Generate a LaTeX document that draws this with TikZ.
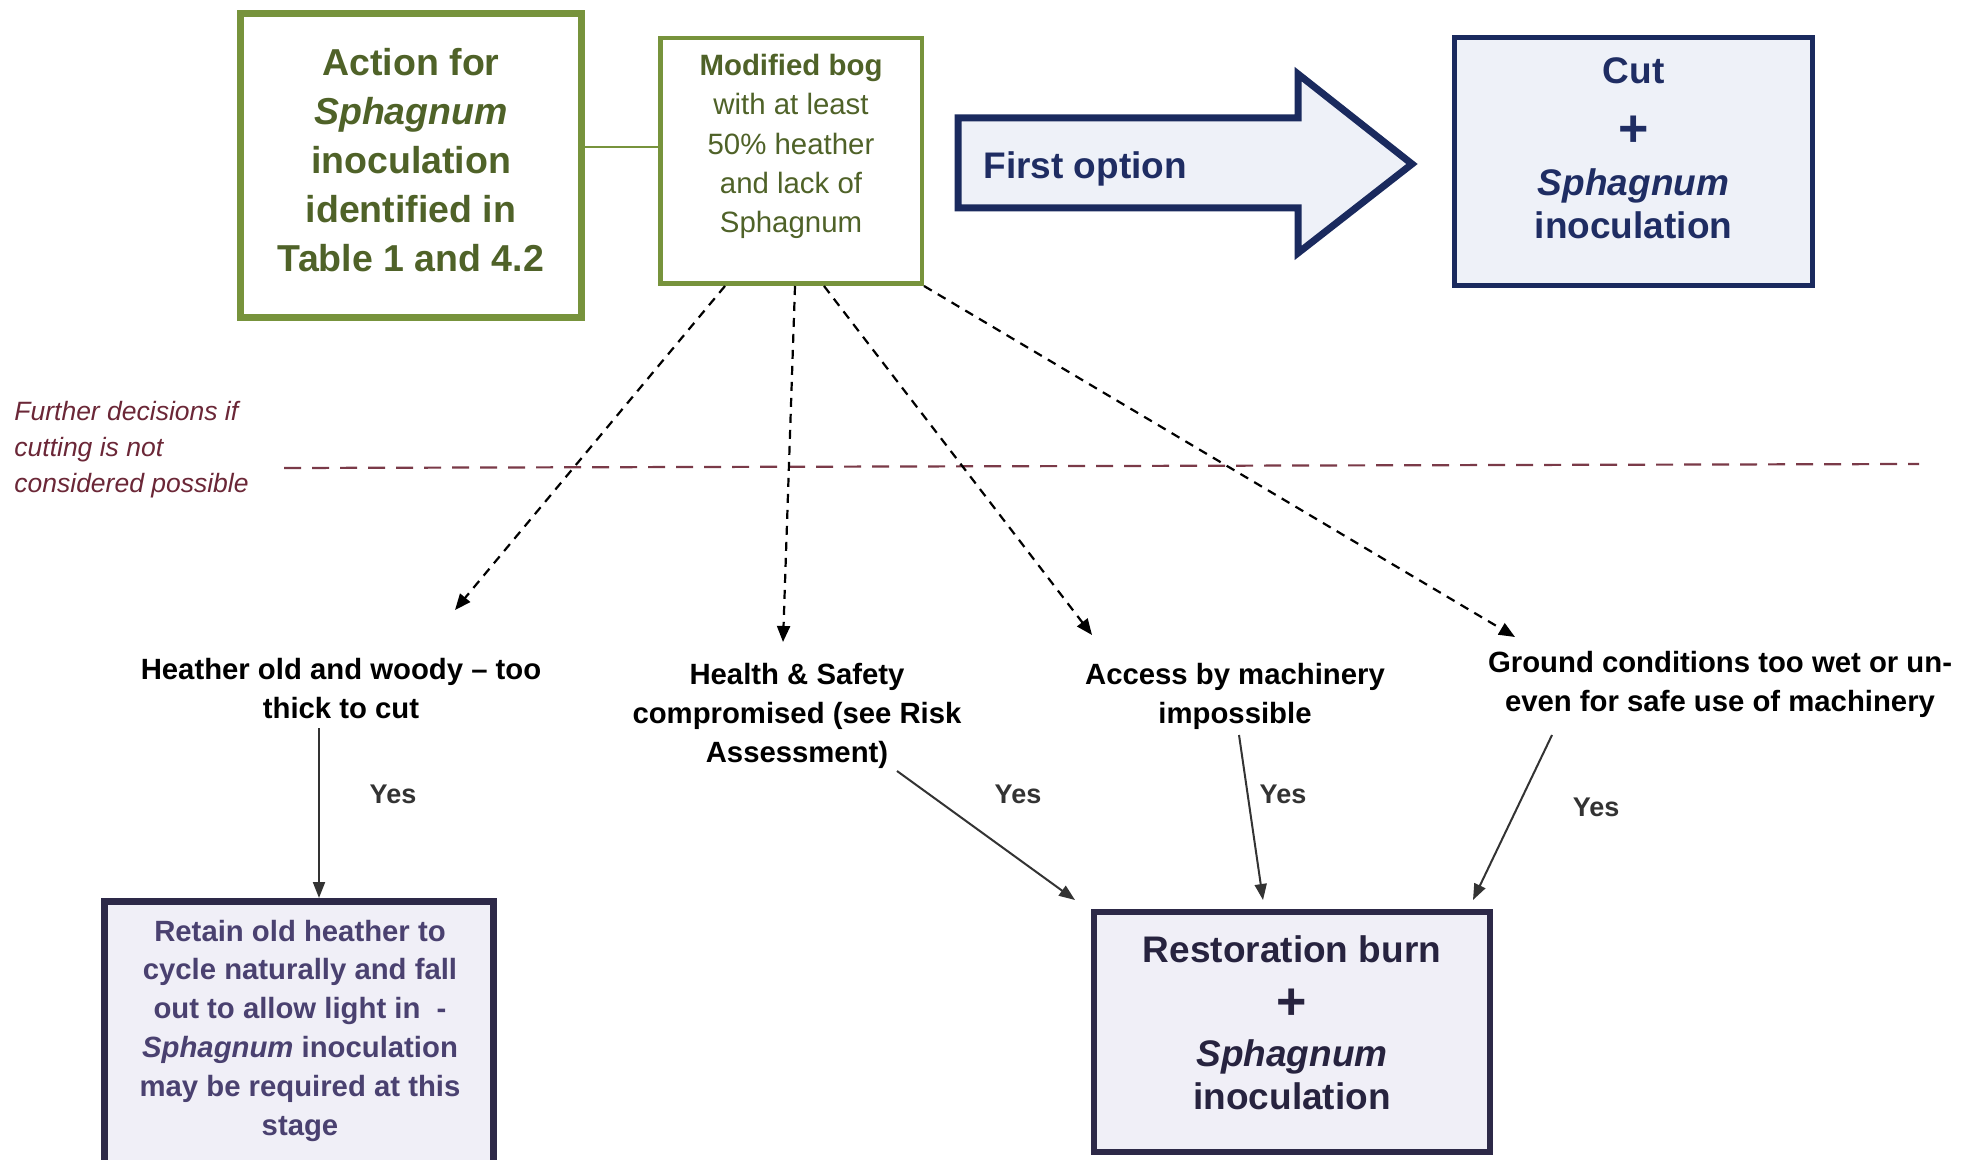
\documentclass[tikz,border=0pt]{standalone}
\usepackage{fontspec}
\setmainfont{Liberation Sans}
\usetikzlibrary{arrows.meta}
\definecolor{oliveline}{HTML}{77933C}
\definecolor{olivetext}{HTML}{4F6228}
\definecolor{navyline}{HTML}{1A2A5E}
\definecolor{navytext}{HTML}{1F2D63}
\definecolor{bluefill}{HTML}{EEF1F8}
\definecolor{purpleline}{HTML}{2D2948}
\definecolor{lavfill}{HTML}{F0EFF7}
\definecolor{retaintext}{HTML}{4A4170}
\definecolor{resttext}{HTML}{27233F}
\definecolor{maroonline}{HTML}{7A3A48}
\definecolor{maroontext}{HTML}{6B2737}
\definecolor{arrowgray}{HTML}{333333}
\begin{document}
\begin{tikzpicture}[x=0.5pt,y=-0.5pt,
  plainbox/.style={rectangle, inner sep=0pt},
  olivebox/.style={plainbox, draw=oliveline, fill=white},
  navybox/.style={plainbox, draw=navyline, line width=2.5pt, fill=bluefill},
  purplebox/.style={plainbox, draw=purpleline, fill=lavfill},
  condtext/.style={align=center, inner sep=0pt, font=\fontsize{14.65}{19.5}\selectfont\bfseries},
  yeslabel/.style={inner sep=0pt, font=\fontsize{13.5}{16}\selectfont\bfseries, text=arrowgray},
  dasharrow/.style={draw=black, line width=1.1pt, dash pattern=on 4.5pt off 3.5pt, -{Triangle[length=8pt,width=6.5pt]}},
  solidarrow/.style={draw=arrowgray, line width=1pt, -{Triangle[length=8pt,width=6pt]}},
  maroondash/.style={draw=maroonline, line width=1.1pt, dash pattern=on 8.5pt off 5.5pt}
]
\useasboundingbox (0,0) rectangle (1973,1160);
\fill[white] (0,0) rectangle (1973,1160);

% top-left boxes
\node[olivebox, line width=3.5pt, minimum width=170.5pt, minimum height=152pt] (act) at (411,165.5) {};
\node[align=center, inner sep=0pt, text=olivetext, font=\fontsize{18.75}{24.5}\selectfont\bfseries] (acttext) at (411,160)
  {Action for\\\textit{Sphagnum}\\inoculation\\identified in\\Table 1 and 4.2};

\node[olivebox, line width=2.25pt, minimum width=130.75pt, minimum height=122.75pt] (mod) at (791,161) {};
\node[align=center, inner sep=0pt, text=olivetext, font=\fontsize{14.7}{19.7}\selectfont] (modtext) at (791,146.5)
  {\textbf{Modified bog}\\with at least\\50\% heather\\and lack of\\Sphagnum};

\coordinate (actconn) at ([yshift=9.25pt]act.east);
\draw[oliveline, line width=1.3pt] (actconn) -- (actconn -| mod.west);

% first option arrow
\coordinate (fa1) at (958,118);
\coordinate (fa2) at (1298,118);
\coordinate (fa3) at (1298,74);
\coordinate (fa4) at (1412,164);
\coordinate (fa5) at (1298,253);
\coordinate (fa6) at (1298,208);
\coordinate (fa7) at (958,208);
\draw[navyline, fill=bluefill, line width=3.5pt, line join=miter]
  (fa1) -- (fa2) -- (fa3) -- (fa4) -- (fa5) -- (fa6) -- (fa7) -- cycle;
\node[anchor=west, inner sep=0pt, text=navytext, font=\fontsize{18.5}{22}\selectfont\bfseries] (firstopt) at (983,169) {First option};

% cut box
\node[navybox, minimum width=179pt, minimum height=124pt] (cut) at (1633.5,161.5) {};
\node[align=center, inner sep=0pt, text=navytext, font=\fontsize{18.5}{21.5}\selectfont\bfseries] (cuttext) at (1633.5,148)
  {Cut\\[10pt]{\fontsize{26}{26}\selectfont+}\\[3pt]\textit{Sphagnum}\\inoculation};

% further decisions
\node[anchor=west, align=left, inner sep=0pt, text=maroontext, font=\fontsize{13.25}{18}\selectfont\itshape] (further) at (14,450)
  {Further decisions if\\cutting is not\\considered possible};
\coordinate (dl1) at (284,468);
\coordinate (dl2) at (1919,464);
\draw[maroondash] (dl1) -- (dl2);

% conditions
\node[condtext] (heather) at (341,689) {Heather old and woody -- too\\thick to cut};
\node[condtext] (health) at (797,716) {Health \& Safety\\compromised (see Risk\\Assessment)};
\node[condtext] (access) at (1235,696) {Access by machinery\\impossible};
\node[condtext] (ground) at (1720,684) {Ground conditions too wet or un-\\even for safe use of machinery};

% dashed arrows
\coordinate (t1) at (455,610);
\coordinate (t2) at (783,642);
\coordinate (t3) at (1092,635);
\coordinate (t4) at (1515,637);
\draw[dasharrow] ([xshift=-33pt]mod.south) -- (t1);
\draw[dasharrow] ([xshift=2pt]mod.south) -- (t2);
\draw[dasharrow] ([xshift=16.5pt]mod.south) -- (t3);
\draw[dasharrow] (mod.south east) -- (t4);

% bottom boxes
\node[purplebox, line width=3.3pt, minimum width=194.7pt, minimum height=134.35pt] (retain) at (299,1035.65) {};
\node[align=center, inner sep=0pt, text=retaintext, font=\fontsize{14.65}{19.4}\selectfont\bfseries] (retaintxt) at (300,1030.5)
  {Retain old heather to\\cycle naturally and fall\\out to allow light in \ -\\\textit{Sphagnum} inoculation\\may be required at this\\stage};

\node[purplebox, line width=3pt, minimum width=198pt, minimum height=120pt] (rest) at (1292,1032) {};
\node[align=center, inner sep=0pt, text=resttext, font=\fontsize{18.5}{21.5}\selectfont\bfseries] (resttxt) at (1292,1022.5)
  {Restoration burn\\[7pt]{\fontsize{26}{26}\selectfont+}\\[2pt]\textit{Sphagnum}\\inoculation};

% solid arrows
\coordinate (s1) at (319,728);
\coordinate (s2) at (897,771);
\coordinate (s3) at (1239,735);
\coordinate (s4) at (1552,735);
\coordinate (e2) at (1075,900);
\coordinate (e3) at (1263,900);
\coordinate (e4) at (1473,900);
\draw[solidarrow] (s1) -- (s1 |- retain.north);
\draw[solidarrow] (s2) -- (e2);
\draw[solidarrow] (s3) -- (e3);
\draw[solidarrow] (s4) -- (e4);

% yes labels
\node[yeslabel] (yes1) at (393,794) {Yes};
\node[yeslabel] (yes2) at (1018,794) {Yes};
\node[yeslabel] (yes3) at (1283,794) {Yes};
\node[yeslabel] (yes4) at (1596,807) {Yes};
\end{tikzpicture}
\end{document}
